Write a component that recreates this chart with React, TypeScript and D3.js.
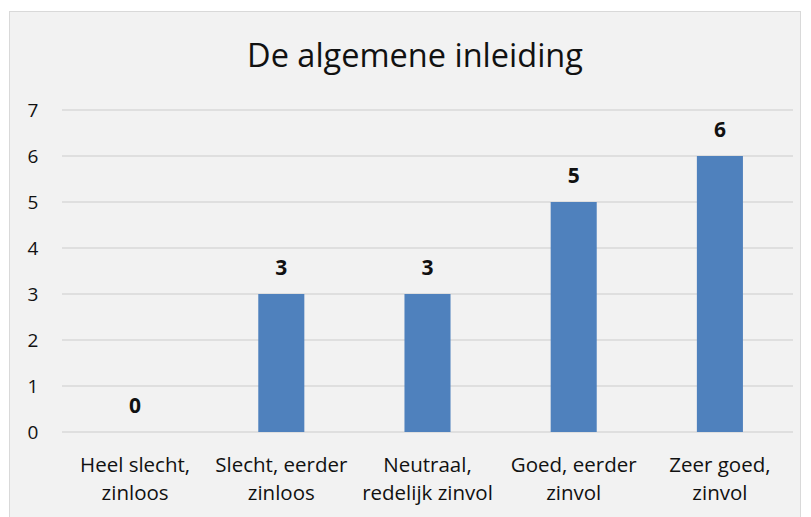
import React from "react";
import * as d3 from "d3";

const categories: string[][] = [
  ["Heel slecht,", "zinloos"],
  ["Slecht, eerder", "zinloos"],
  ["Neutraal,", "redelijk zinvol"],
  ["Goed, eerder", "zinvol"],
  ["Zeer goed,", "zinvol"],
];
const values: number[] = [0, 3, 3, 5, 6];
const yTicks: number[] = [0, 1, 2, 3, 4, 5, 6, 7];
const title = "De algemene inleiding";

export default function App() {
  const W = 811, H = 517;
  const left = 62, right = 793, top = 110, bottom = 432;
  const x = d3.scaleBand<number>().domain(d3.range(values.length)).range([left, right]).paddingInner(0.685).paddingOuter(0.3425);
  const y = d3.scaleLinear().domain([0, 7]).range([bottom, top]);
  const font = "'Open Sans', 'Liberation Sans', sans-serif";
  return (
    <svg width={W} height={H} style={{ position: "absolute", left: 0, top: 0, display: "block" }} fontFamily={font}>
      <rect x={0} y={0} width={W} height={H} fill="#ffffff" />
      <rect x={9.5} y={11.5} width={791} height={520} fill="#F2F2F2" stroke="#D9D9D9" strokeWidth={1} />
      <text x={415} y={67} textAnchor="middle" fontSize={32.5} fill="#111">{title}</text>
      {yTicks.map((t) => (
        <g key={t}>
          <line x1={left} x2={right} y1={y(t)} y2={y(t)} stroke="#D9D9D9" strokeWidth={1.5} />
          <text x={33} y={y(t) + 7} textAnchor="middle" fontSize={19} fill="#111">{t}</text>
        </g>
      ))}
      {values.map((v, i) => {
        const bx = x(i)!;
        const bw = x.bandwidth();
        return (
          <g key={i}>
            {v > 0 && <rect x={bx} y={y(v)} width={bw} height={y(0) - y(v)} fill="#4F81BD" />}
            <text x={bx + bw / 2} y={y(v) - 19} textAnchor="middle" fontSize={21} fontWeight="bold" fill="#111">{v}</text>
            {categories[i].map((line, j) => (
              <text key={j} x={bx + bw / 2} y={472 + j * 28} textAnchor="middle" fontSize={20.5} fill="#111">{line}</text>
            ))}
          </g>
        );
      })}
    </svg>
  );
}
